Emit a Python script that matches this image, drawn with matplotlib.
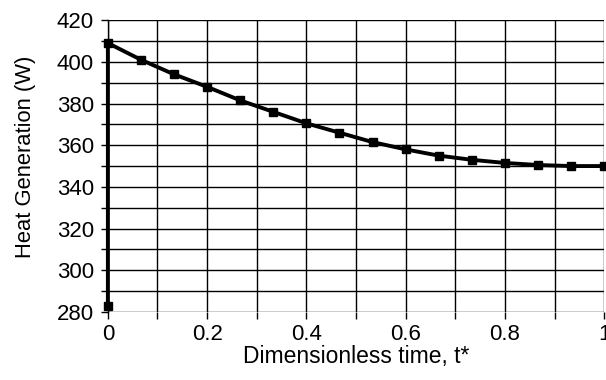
import matplotlib
matplotlib.use('Agg')
import matplotlib.pyplot as plt
import numpy as np

plt.rcParams['font.family'] = ['Liberation Sans', 'DejaVu Sans']

# Dimensionless time and heat generation (W)
t_star = [0, 0, 1/15, 2/15, 3/15, 4/15, 5/15, 6/15, 7/15, 8/15, 9/15,
          10/15, 11/15, 12/15, 13/15, 14/15, 1]
heat = [283, 409, 401, 394, 388, 381.5, 376, 370.5, 366, 361.5, 358,
        355, 353, 351.5, 350.5, 350, 350]

fig = plt.figure(figsize=(6.06, 3.8), dpi=100)
ax = fig.add_axes([0.178, 0.179, 0.819, 0.768])

ax.plot(t_star, heat, 'k-', lw=2.8, marker='s', ms=6, mfc='k', mec='k',
        zorder=3, clip_on=False)

ax.set_xlim(0, 1)
ax.set_ylim(280, 420)
ax.set_xticks(np.arange(0, 1.01, 0.2))
ax.set_xticks(np.arange(0, 1.01, 0.1), minor=True)
ax.set_yticks(np.arange(280, 421, 20))
ax.set_yticks(np.arange(280, 421, 10), minor=True)
ax.set_xticklabels(['0', '0.2', '0.4', '0.6', '0.8', '1'])
ax.grid(which='both', color='k', lw=1.0)
ax.set_axisbelow(True)

for s in ['top', 'right', 'bottom']:
    ax.spines[s].set_visible(False)
ax.spines['left'].set_linewidth(1.0)

ax.tick_params(which='both', direction='out', length=5, width=1, colors='k', labelsize=16)
ax.tick_params(axis='x', pad=4)
ax.tick_params(axis='y', pad=5)
ax.set_xlabel('Dimensionless time, t*', fontsize=16.5, labelpad=0)
ax.set_ylabel('Heat Generation (W)', fontsize=15.8, labelpad=14)
ax.yaxis.set_label_coords(-0.145, 0.53)

fig.savefig('out.png', dpi=100)
